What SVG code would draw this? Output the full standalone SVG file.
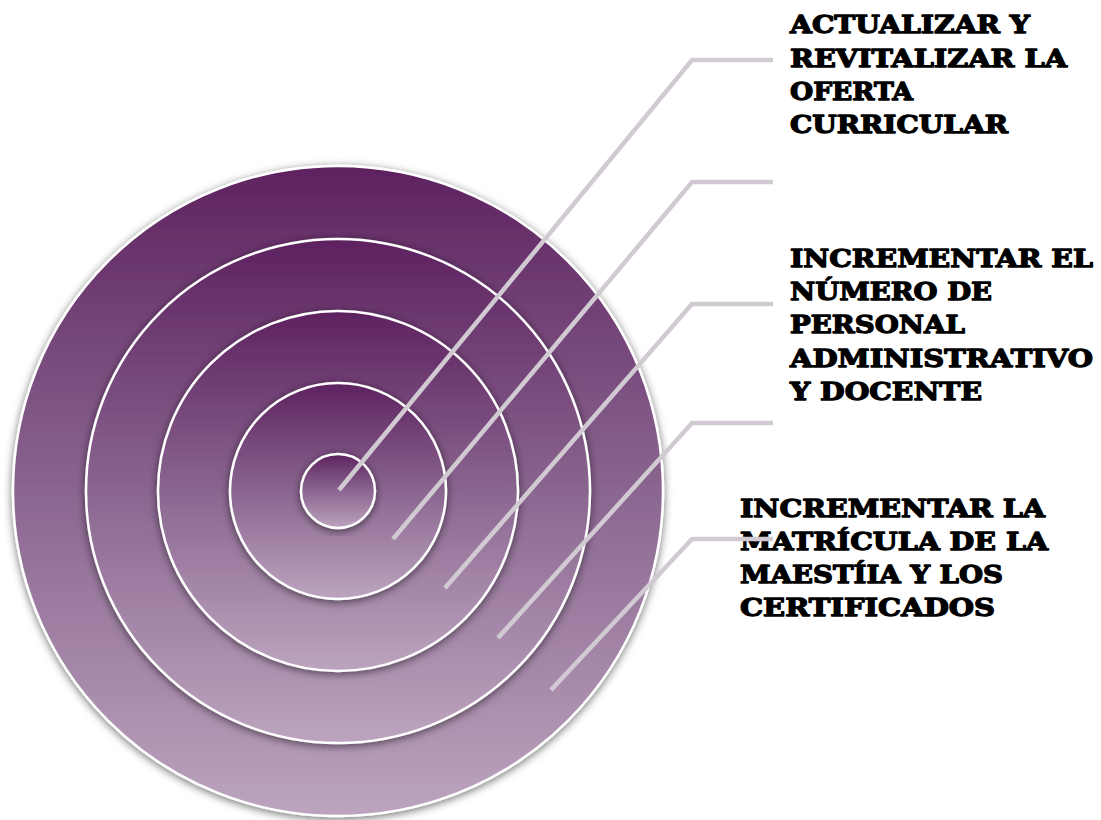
<svg xmlns="http://www.w3.org/2000/svg" width="1101" height="820" viewBox="0 0 1101 820">
<defs>
<linearGradient id="g" x1="0" y1="0" x2="0" y2="1">
<stop offset="0" stop-color="#5e2260"/>
<stop offset="0.5" stop-color="#8a6690"/>
<stop offset="1" stop-color="#bca4be"/>
</linearGradient>
<filter id="sh" x="-10%" y="-10%" width="120%" height="120%">
<feGaussianBlur in="SourceAlpha" stdDeviation="4"/>
<feOffset dx="0" dy="2" result="b"/>
<feFlood flood-color="#000" flood-opacity="0.55"/>
<feComposite in2="b" operator="in"/>
<feMerge><feMergeNode/><feMergeNode in="SourceGraphic"/></feMerge>
</filter>
</defs>
<style>
.c{fill:url(#g);stroke:#fff;stroke-width:2.5;filter:url(#sh)}
.t text{font-family:"DejaVu Serif","Liberation Serif",serif;font-weight:900;font-size:25px;fill:#000;stroke:#000;stroke-width:1.3;stroke-linejoin:round}
.l{fill:none;stroke:#d2cad3;stroke-width:4.5;stroke-linejoin:miter}
</style>
<rect width="1101" height="820" fill="#fff"/>
<g id="ring1"><circle class="c" cx="338" cy="491" r="325"/></g>
<g id="ring2"><circle class="c" cx="338" cy="491" r="252"/></g>
<g id="ring3"><circle class="c" cx="338" cy="491" r="180"/></g>
<g id="ring4"><circle class="c" cx="338" cy="491" r="108"/></g>
<g id="ring5"><circle class="c" cx="338" cy="491" r="37"/></g>
<g id="label1" class="t">
<text x="790" y="33" textLength="240" lengthAdjust="spacingAndGlyphs">ACTUALIZAR Y</text>
<text x="790" y="67" textLength="277" lengthAdjust="spacingAndGlyphs">REVITALIZAR LA</text>
<text x="790" y="100" textLength="123" lengthAdjust="spacingAndGlyphs">OFERTA</text>
<text x="790" y="133" textLength="218" lengthAdjust="spacingAndGlyphs">CURRICULAR</text>
</g>
<g id="label3" class="t">
<text x="790" y="267" textLength="303" lengthAdjust="spacingAndGlyphs">INCREMENTAR EL</text>
<text x="790" y="300" textLength="202" lengthAdjust="spacingAndGlyphs">NÚMERO DE</text>
<text x="790" y="333" textLength="175" lengthAdjust="spacingAndGlyphs">PERSONAL</text>
<text x="790" y="367" textLength="303" lengthAdjust="spacingAndGlyphs">ADMINISTRATIVO</text>
<text x="790" y="400" textLength="192" lengthAdjust="spacingAndGlyphs">Y DOCENTE</text>
</g>
<g id="label5" class="t">
<text x="740" y="517" textLength="305" lengthAdjust="spacingAndGlyphs">INCREMENTAR LA</text>
<text x="740" y="550" textLength="308" lengthAdjust="spacingAndGlyphs">MATRÍCULA DE LA</text>
<text x="740" y="583" textLength="263" lengthAdjust="spacingAndGlyphs">MAESTÍIA Y LOS</text>
<text x="740" y="616" textLength="255" lengthAdjust="spacingAndGlyphs">CERTIFICADOS</text>
</g>
<g id="connectors">
<polyline class="l" points="339,490 692,60 773,60"/>
<polyline class="l" points="393,539 692,182 773,182"/>
<polyline class="l" points="445,588 692,304 773,304"/>
<polyline class="l" points="498,638 692,423 773,423"/>
<polyline class="l" points="551,690 692,539 773,539"/>
</g>
</svg>
